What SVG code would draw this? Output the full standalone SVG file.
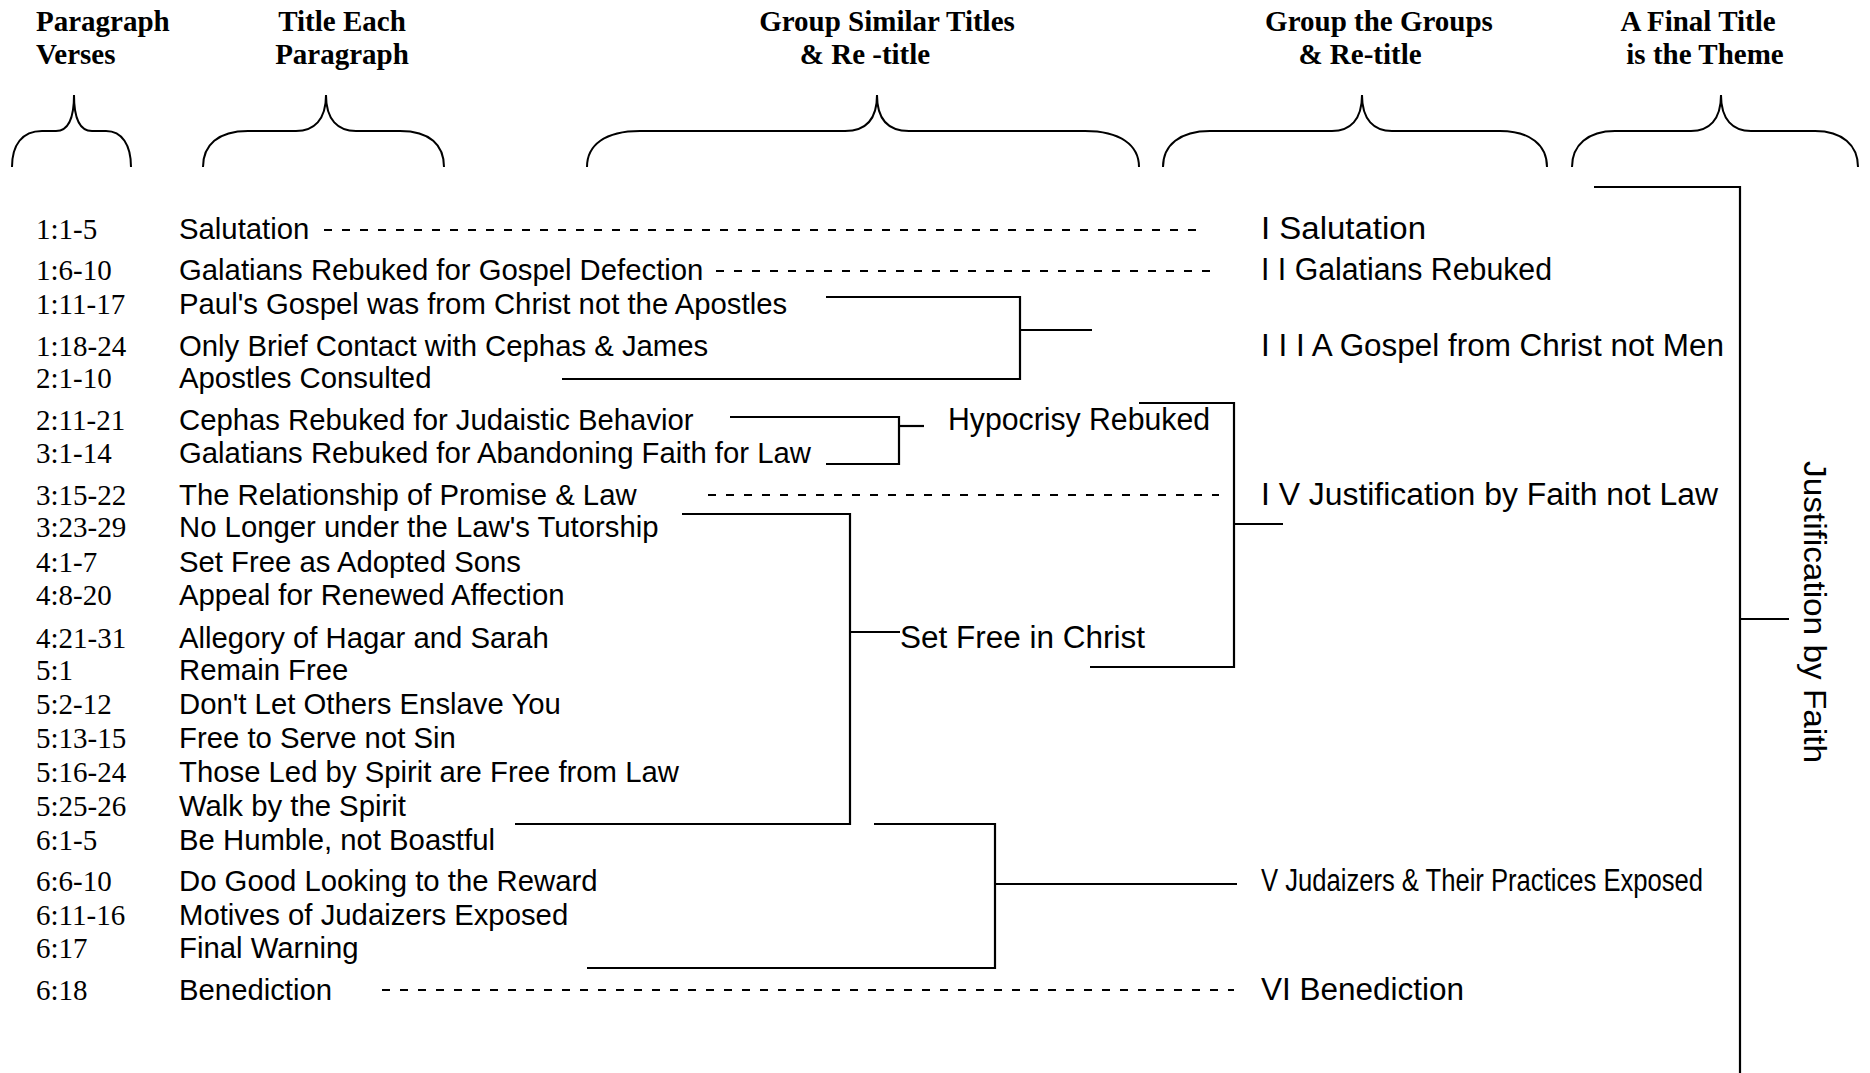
<svg xmlns="http://www.w3.org/2000/svg" width="1870" height="1073" viewBox="0 0 1870 1073">
<style>
.hd{font-family:"Liberation Serif","Times New Roman",serif;font-weight:bold;font-size:29px;fill:#000}
.vs{font-family:"Liberation Serif","Times New Roman",serif;font-size:29px;fill:#000}
.tt{font-family:"Liberation Sans",Arial,sans-serif;font-size:29.3px;fill:#000}
.gp{font-family:"Liberation Sans Narrow","Liberation Sans",Arial,sans-serif;font-size:31px;fill:#000}
.br{fill:none;stroke:#000;stroke-width:2}
.ln{fill:none;stroke:#000;stroke-width:2.2}
.ds{fill:none;stroke:#000;stroke-width:2.2;stroke-dasharray:8 10}
</style>
<rect width="1870" height="1073" fill="#fff"/>
<g id="headers">
<text class="hd" x="36" y="31">Paragraph</text>
<text class="hd" x="36" y="64">Verses</text>
<text class="hd" x="342" y="31" text-anchor="middle">Title Each</text>
<text class="hd" x="342" y="64" text-anchor="middle">Paragraph</text>
<text class="hd" x="887" y="31" text-anchor="middle">Group Similar Titles</text>
<text class="hd" x="865" y="64" text-anchor="middle">&amp; Re -title</text>
<text class="hd" x="1379" y="31" text-anchor="middle">Group the Groups</text>
<text class="hd" x="1360" y="64" text-anchor="middle">&amp; Re-title</text>
<text class="hd" x="1698" y="31" text-anchor="middle">A Final Title</text>
<text class="hd" x="1705" y="64" text-anchor="middle">is the Theme</text>
</g>
<g id="braces">
<path class="br" d="M12 167 C12 145 22 131 42 131 L56 131 C68 131 74 120 74 95 C74 120 80 131 92 131 L106 131 C122 131 131 145 131 167"/>
<path class="br" d="M203 167 C203 145 218 131 248 131 L296 131 C314 131 326 120 326 95 C326 120 338 131 356 131 L400 131 C430 131 444 145 444 167"/>
<path class="br" d="M587 167 C587 145 605 131 640 131 L845 131 C865 131 877 120 877 95 C877 120 889 131 909 131 L1085 131 C1120 131 1139 145 1139 167"/>
<path class="br" d="M1163 167 C1163 145 1180 131 1210 131 L1332 131 C1350 131 1362 120 1362 95 C1362 120 1374 131 1392 131 L1500 131 C1530 131 1547 145 1547 167"/>
<path class="br" d="M1572 167 C1572 145 1588 131 1615 131 L1691 131 C1709 131 1721 120 1721 95 C1721 120 1733 131 1751 131 L1815 131 C1842 131 1858 145 1858 167"/>
</g>
<g id="verses">
<text class="vs" x="36" y="239">1:1-5</text>
<text class="vs" x="36" y="280">1:6-10</text>
<text class="vs" x="36" y="314">1:11-17</text>
<text class="vs" x="36" y="356">1:18-24</text>
<text class="vs" x="36" y="388">2:1-10</text>
<text class="vs" x="36" y="430">2:11-21</text>
<text class="vs" x="36" y="463">3:1-14</text>
<text class="vs" x="36" y="505">3:15-22</text>
<text class="vs" x="36" y="537">3:23-29</text>
<text class="vs" x="36" y="572">4:1-7</text>
<text class="vs" x="36" y="605">4:8-20</text>
<text class="vs" x="36" y="648">4:21-31</text>
<text class="vs" x="36" y="680">5:1</text>
<text class="vs" x="36" y="714">5:2-12</text>
<text class="vs" x="36" y="748">5:13-15</text>
<text class="vs" x="36" y="782">5:16-24</text>
<text class="vs" x="36" y="816">5:25-26</text>
<text class="vs" x="36" y="850">6:1-5</text>
<text class="vs" x="36" y="891">6:6-10</text>
<text class="vs" x="36" y="925">6:11-16</text>
<text class="vs" x="36" y="958">6:17</text>
<text class="vs" x="36" y="1000">6:18</text>
</g>
<g id="titles">
<text class="tt" x="179" y="239">Salutation</text>
<text class="tt" x="179" y="280">Galatians Rebuked for Gospel Defection</text>
<text class="tt" x="179" y="314">Paul's Gospel was from Christ not the Apostles</text>
<text class="tt" x="179" y="356">Only Brief Contact with Cephas &amp; James</text>
<text class="tt" x="179" y="388">Apostles Consulted</text>
<text class="tt" x="179" y="430">Cephas Rebuked for Judaistic Behavior</text>
<text class="tt" x="179" y="463">Galatians Rebuked for Abandoning Faith for Law</text>
<text class="tt" x="179" y="505">The Relationship of Promise &amp; Law</text>
<text class="tt" x="179" y="537">No Longer under the Law's Tutorship</text>
<text class="tt" x="179" y="572">Set Free as Adopted Sons</text>
<text class="tt" x="179" y="605">Appeal for Renewed Affection</text>
<text class="tt" x="179" y="648">Allegory of Hagar and Sarah</text>
<text class="tt" x="179" y="680">Remain Free</text>
<text class="tt" x="179" y="714">Don't Let Others Enslave You</text>
<text class="tt" x="179" y="748">Free to Serve not Sin</text>
<text class="tt" x="179" y="782">Those Led by Spirit are Free from Law</text>
<text class="tt" x="179" y="816">Walk by the Spirit</text>
<text class="tt" x="179" y="850">Be Humble, not Boastful</text>
<text class="tt" x="179" y="891">Do Good Looking to the Reward</text>
<text class="tt" x="179" y="925">Motives of Judaizers Exposed</text>
<text class="tt" x="179" y="958">Final Warning</text>
<text class="tt" x="179" y="1000">Benediction</text>
</g>
<g id="groups">
<text class="gp" x="948" y="430" textLength="262" lengthAdjust="spacingAndGlyphs">Hypocrisy Rebuked</text>
<text class="gp" x="900" y="648" textLength="245" lengthAdjust="spacingAndGlyphs">Set Free in Christ</text>
</g>
<g id="sections">
<text class="gp" x="1261" y="239" textLength="165" lengthAdjust="spacingAndGlyphs">I Salutation</text>
<text class="gp" x="1261" y="280" textLength="291" lengthAdjust="spacingAndGlyphs">I I Galatians Rebuked</text>
<text class="gp" x="1261" y="356" textLength="463" lengthAdjust="spacingAndGlyphs">I I I A Gospel from Christ not Men</text>
<text class="gp" x="1261" y="505" textLength="457" lengthAdjust="spacingAndGlyphs">I V Justification by Faith not Law</text>
<text class="gp" x="1261" y="891" textLength="442" lengthAdjust="spacingAndGlyphs">V Judaizers &amp; Their Practices Exposed</text>
<text class="gp" x="1261" y="1000" textLength="203" lengthAdjust="spacingAndGlyphs">VI Benediction</text>
</g>
<g id="theme">
<text class="gp" transform="translate(1804 612) rotate(90)" x="0" y="0" text-anchor="middle" textLength="302" lengthAdjust="spacingAndGlyphs">Justification by Faith</text>
</g>
<g id="connectors">
<line class="ds" x1="324" y1="230" x2="1202" y2="230"/>
<line class="ds" x1="716" y1="271" x2="1210" y2="271"/>
<line class="ds" x1="708" y1="495" x2="1219" y2="495"/>
<line class="ds" x1="382" y1="990" x2="1234" y2="990"/>
<polyline class="ln" points="826,297 1020,297 1020,379 562,379"/>
<line class="ln" x1="1020" y1="330" x2="1092" y2="330"/>
<polyline class="ln" points="730,417 899,417 899,464 826,464"/>
<line class="ln" x1="899" y1="426" x2="924" y2="426"/>
<polyline class="ln" points="682,514 850,514 850,824 515,824"/>
<line class="ln" x1="850" y1="632" x2="900" y2="632"/>
<polyline class="ln" points="1139,403 1234,403 1234,667 1090,667"/>
<line class="ln" x1="1234" y1="524" x2="1283" y2="524"/>
<polyline class="ln" points="874,824 995,824 995,968 587,968"/>
<line class="ln" x1="995" y1="884" x2="1237" y2="884"/>
<polyline class="ln" points="1594,187 1740,187 1740,1073"/>
<line class="ln" x1="1740" y1="619" x2="1789" y2="619"/>
</g>
</svg>
